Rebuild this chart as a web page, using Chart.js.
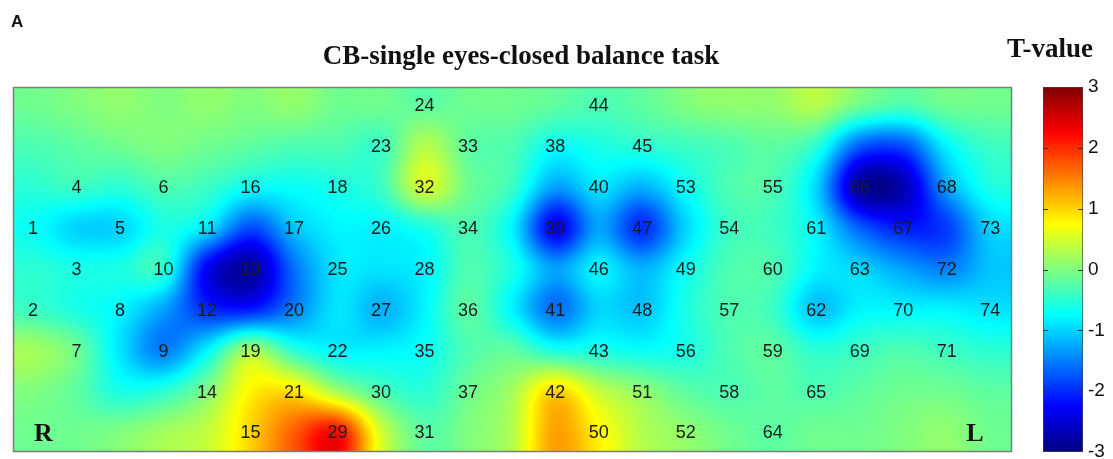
<!DOCTYPE html>
<html>
<head>
<meta charset="utf-8">
<script src="https://cdn.jsdelivr.net/npm/chart.js@4.4.1/dist/chart.umd.min.js"></script>
<style>
  html,body{margin:0;padding:0;background:#fff;}
  #wrap{position:relative;width:1113px;height:459px;overflow:hidden;}
  #main{position:absolute;left:0;top:0;}
  #cbar{position:absolute;left:1030px;top:0;}
</style>
</head>
<body>
<div id="wrap">
  <canvas id="main" width="1113" height="459"></canvas>
  <canvas id="cbar" width="83" height="459"></canvas>
</div>
<script>
// ---------------- DATA ----------------
const titleText = "CB-single eyes-closed balance task";
const colorbarTitle = "T-value";
const panelLetter = "A";
const sideLabels = ["R", "L"];

// channel numbers and their grid positions (column, row)
const channelNum = [24,44, 23,33,38,45, 4,6,16,18,32,40,53,55,66,68,
  1,5,11,17,26,34,39,47,54,61,67,73, 3,10,13,25,28,46,49,60,63,72,
  2,8,12,20,27,36,41,48,57,62,70,74, 7,9,19,22,35,43,56,59,69,71,
  14,21,30,37,42,51,58,65, 15,29,31,50,52,64];
const channelCol = [9,13, 8,10,12,14, 1,3,5,7,9,13,15,17,19,21,
  0,2,4,6,8,10,12,14,16,18,20,22, 1,3,5,7,9,13,15,17,19,21,
  0,2,4,6,8,10,12,14,16,18,20,22, 1,3,5,7,9,13,15,17,19,21,
  4,6,8,10,12,14,16,18, 5,7,9,13,15,17];
const channelRow = [0,0, 1,1,1,1, 2,2,2,2,2,2,2,2,2,2,
  3,3,3,3,3,3,3,3,3,3,3,3, 4,4,4,4,4,4,4,4,4,4,
  5,5,5,5,5,5,5,5,5,5,5,5, 6,6,6,6,6,6,6,6,6,6,
  7,7,7,7,7,7,7,7, 8,8,8,8,8,8];

// T-value map read at every grid node (rows 0..8, columns 0..22)
const tRow0 = [-0.1, 0.0, 0.1, 0.0, 0.1, 0.0, 0.1,-0.1,-0.1,-0.2,-0.1,-0.1,-0.2,-0.3,-0.2, 0.0, 0.1, 0.1, 0.3,-0.1,-0.3,-0.1,-0.1];
const tRow1 = [-0.3,-0.2,-0.1, 0.0,-0.1,-0.2,-0.3,-0.3,-0.4, 0.3,-0.2,-0.3,-0.7,-0.6,-0.5,-0.4,-0.3,-0.2,-0.5,-1.7,-1.8,-0.8,-0.4];
const tRow2 = [-0.5,-0.4,-0.5,-0.3,-0.4,-0.7,-0.7,-0.6,-0.4, 0.5,-0.1,-0.4,-1.3,-0.9,-1.2,-0.7,-0.3,-0.3,-1.0,-2.8,-2.7,-1.3,-0.6];
const tRow3 = [-0.7,-1.0,-1.0,-0.6,-0.9,-1.8,-1.1,-0.8,-0.8,-0.6,-0.3,-0.8,-2.3,-1.3,-2.0,-1.0,-0.4,-0.4,-0.8,-1.7,-2.1,-1.9,-1.0];
const tRow4 = [-0.5,-0.6,-0.6,-0.5,-2.3,-2.8,-1.6,-0.9,-0.9,-0.8,-0.3,-0.6,-1.3,-0.8,-1.2,-0.7,-0.3,-0.3,-0.8,-1.0,-1.3,-1.5,-1.1];
const tRow5 = [-0.4,-0.6,-0.8,-1.3,-2.0,-2.1,-1.5,-0.9,-1.2,-0.8,-0.2,-0.8,-1.6,-1.0,-1.1,-0.6,-0.3,-0.4,-1.1,-0.8,-0.8,-0.8,-0.9];
const tRow6 = [ 0.2,-0.1,-0.9,-1.5,-0.8, 0.2,-0.5,-0.8,-0.8,-0.7,-0.3,-0.2,-0.6,-0.6,-0.7,-0.6,-0.3,-0.2,-0.5,-0.4,-0.3,-0.4,-0.5];
const tRow7 = [ 0.0,-0.2,-0.6,-0.5, 0.0, 0.8, 0.9, 0.2,-0.3,-0.5,-0.1, 0.2, 1.0, 0.4, 0.1,-0.2,-0.3,-0.2,-0.3,-0.2,-0.1,-0.1,-0.2];
const tRow8 = [-0.1,-0.1, 0.0, 0.2, 0.4, 1.0, 1.7, 2.2, 0.5,-0.2, 0.0, 0.3, 1.3, 0.8, 0.3, 0.1,-0.1,-0.2,-0.1,-0.1, 0.0, 0.1,-0.1];
const tGrid = [tRow0,tRow1,tRow2,tRow3,tRow4,tRow5,tRow6,tRow7,tRow8];

const colorMin = -3, colorMax = 3;
const colorTicks = [-3,-2,-1,0,1,2,3];

// ---------------- helpers ----------------
function clamp01(v){ return v<0?0:(v>1?1:v); }
function jet(t){
  t = clamp01(t);
  return [clamp01(1.5-Math.abs(4*t-3))*255, clamp01(1.5-Math.abs(4*t-2))*255, clamp01(1.5-Math.abs(4*t-1))*255];
}
function cr(p0,p1,p2,p3,t){
  return p1 + 0.5*t*(p2-p0 + t*(2*p0-5*p1+4*p2-p3 + t*(3*(p1-p2)+p3-p0)));
}
const NR = tGrid.length, NC = tGrid[0].length;
function ci(i,n){ return i<0?0:(i>=n?n-1:i); }
function sampleGrid(gx, gy){
  const ix = Math.floor(gx), iy = Math.floor(gy);
  const tx = gx-ix, ty = gy-iy;
  const c0=ci(ix-1,NC), c1=ci(ix,NC), c2=ci(ix+1,NC), c3=ci(ix+2,NC);
  const v = [];
  for (let m=-1;m<=2;m++){
    const r = tGrid[ci(iy+m,NR)];
    v.push(cr(r[c0],r[c1],r[c2],r[c3],tx));
  }
  return cr(v[0],v[1],v[2],v[3],ty);
}

// ---------------- main map chart ----------------
const heatmapPlugin = {
  id: 'heatmap',
  beforeDatasetsDraw(chart){
    const {ctx, chartArea, scales} = chart;
    const left = Math.round(chartArea.left), top = Math.round(chartArea.top);
    const w = Math.round(chartArea.right) - left, h = Math.round(chartArea.bottom) - top;
    const img = ctx.createImageData(w, h);
    const gxs = new Float64Array(w);
    for (let px=0; px<w; px++) gxs[px] = scales.x.getValueForPixel(left+px+0.5);
    for (let py=0; py<h; py++){
      const gy = scales.y.getValueForPixel(top+py+0.5);
      for (let px=0; px<w; px++){
        const val = sampleGrid(gxs[px], gy);
        const c = jet((val-colorMin)/(colorMax-colorMin));
        const k = (py*w+px)*4;
        img.data[k]=c[0]; img.data[k+1]=c[1]; img.data[k+2]=c[2]; img.data[k+3]=255;
      }
    }
    ctx.putImageData(img, left, top);
    ctx.save();
    ctx.strokeStyle = '#7d7d7d';
    ctx.lineWidth = 1.5;
    ctx.strokeRect(left+0.5, top+0.5, w-1, h-1);
    ctx.restore();
  },
  afterDatasetsDraw(chart){
    const {ctx, scales} = chart;
    const meta = chart.getDatasetMeta(0);
    ctx.save();
    ctx.fillStyle = '#1c1c1c';
    ctx.font = '18px Arial, "Liberation Sans", sans-serif';
    ctx.textAlign = 'center';
    ctx.textBaseline = 'alphabetic';
    meta.data.forEach((pt, i) => {
      ctx.fillText(String(channelNum[i]), pt.x, pt.y + 6.5);
    });
    ctx.fillStyle = '#111';
    ctx.font = 'bold 26px "Times New Roman", "Liberation Serif", serif';
    ctx.fillText(sideLabels[0], scales.x.getPixelForValue(0.24), scales.y.getPixelForValue(8) + 9);
    ctx.fillText(sideLabels[1], scales.x.getPixelForValue(21.65), scales.y.getPixelForValue(8) + 9);
    // titles
    ctx.fillStyle = '#111';
    ctx.font = 'bold 27px "Times New Roman", "Liberation Serif", serif';
    ctx.fillText(titleText, 521, 64);
    ctx.fillText(colorbarTitle, 1050, 57);
    ctx.textAlign = 'left';
    ctx.font = 'bold 17px Arial, "Liberation Sans", sans-serif';
    ctx.fillText(panelLetter, 11, 27);
    ctx.restore();
  }
};

new Chart(document.getElementById('main'), {
  type: 'scatter',
  data: {
    datasets: [{
      data: channelNum.map((n,i) => ({x: channelCol[i], y: channelRow[i]})),
      pointRadius: 0, pointHoverRadius: 0
    }]
  },
  options: {
    responsive: false, animation: false, events: [],
    layout: { padding: { left: 13, right: 101, top: 87, bottom: 7 } },
    scales: {
      x: { type: 'linear', min: -0.46, max: 22.5, display: false },
      y: { type: 'linear', min: -0.44, max: 8.49, reverse: true, display: false }
    },
    plugins: { legend: { display: false }, tooltip: { enabled: false }, title: { display: false } }
  },
  plugins: [heatmapPlugin]
});

// ---------------- colour bar chart ----------------
const cbarTicksPlugin = {
  id: 'cbarTicks',
  afterDatasetsDraw(chart){
    const {ctx, chartArea, scales} = chart;
    ctx.save();
    ctx.strokeStyle = '#333';
    ctx.lineWidth = 1;
    colorTicks.forEach(v => {
      if (v === colorMin || v === colorMax) return;
      const y = Math.round(scales.y.getPixelForValue(v)) + 0.5;
      ctx.beginPath();
      ctx.moveTo(chartArea.left, y); ctx.lineTo(chartArea.left+5, y);
      ctx.moveTo(chartArea.right-5, y); ctx.lineTo(chartArea.right, y);
      ctx.stroke();
    });
    ctx.restore();
  }
};

new Chart(document.getElementById('cbar'), {
  type: 'bar',
  data: {
    labels: ['T'],
    datasets: [{
      data: [[colorMin, colorMax]],
      backgroundColor: (context) => {
        const {ctx, chartArea} = context.chart;
        if (!chartArea) return '#888';
        const g = ctx.createLinearGradient(0, chartArea.bottom, 0, chartArea.top);
        for (let i=0;i<=40;i++){
          const c = jet(i/40);
          g.addColorStop(i/40, `rgb(${c[0]|0},${c[1]|0},${c[2]|0})`);
        }
        return g;
      },
      borderColor: '#444', borderWidth: 1, borderSkipped: false,
      barPercentage: 1, categoryPercentage: 1
    }]
  },
  options: {
    responsive: false, animation: false, events: [],
    layout: { padding: { left: 13, right: 0, top: 87, bottom: 7 } },
    scales: {
      x: { display: false },
      y: {
        position: 'right', min: colorMin, max: colorMax,
        afterBuildTicks: (s) => { s.ticks = colorTicks.map(v => ({value: v})); },
        ticks: { font: { size: 19, family: 'Arial, "Liberation Sans", sans-serif' }, color: '#111', padding: 5 },
        grid: { display: false, drawTicks: false },
        border: { display: false },
        afterFit: (s) => { s.width = 30; s.paddingTop = 0; s.paddingBottom = 0; }
      }
    },
    plugins: { legend: { display: false }, tooltip: { enabled: false } }
  },
  plugins: [cbarTicksPlugin]
});
</script>
</body>
</html>
